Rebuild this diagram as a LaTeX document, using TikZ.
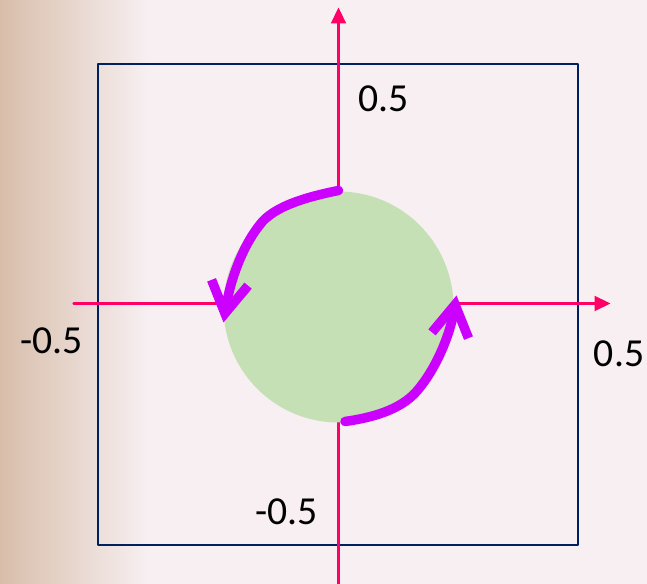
\documentclass[tikz,border=0pt]{standalone}
\usepackage{fontspec}
\setmainfont{Carlito}
\usetikzlibrary{arrows.meta}
\definecolor{axispink}{HTML}{FF0066}
\definecolor{arcpurple}{HTML}{CC00FF}
\definecolor{blobgreen}{HTML}{C5E0B4}
\definecolor{framenavy}{HTML}{002060}
\definecolor{paper}{HTML}{F7EFF2}
\definecolor{paperbrown}{HTML}{D8BEAA}
\tikzset{
  every picture/.style={line join=round, line cap=round, >=Stealth},
  axisline/.style={axispink, line width=0.6pt, -{Triangle[length=1.6mm,width=1.5mm]}},
  flowarc/.style={arcpurple, line width=2.7pt, -{Straight Barb[length=3.1mm,width=3.7mm]}},
  lbl/.style={font=\fontsize{11.3}{13}\selectfont, inner sep=0pt},
}

\begin{document}
\begin{tikzpicture}
\useasboundingbox (-3.385,-2.805) rectangle (3.085,3.035);
\fill[paper] (-3.385,-2.805) rectangle (3.085,3.035);
\shade[left color=paperbrown, right color=paper] (-3.385,-2.805) rectangle (-1.9,3.035);
%frame
\draw[framenavy, line width=0.65pt] (-2.405,-2.415) rectangle (2.395,2.395);
%axes
\coordinate (xl) at (-2.65,0);
\coordinate (xr) at (2.72,0);
\coordinate (yb) at (0,-2.81);
\coordinate (yt) at (0,2.96);
\draw[axisline] (xl) -- (xr);
\draw[axisline] (yb) -- (yt);
%green region
\fill[blobgreen] (0,-0.035) ellipse (1.15 and 1.155);
%circulation
\coordinate (a1) at (0,1.13);
\coordinate (a2) at (-1.15,-0.19);
\coordinate (b1) at (0.065,-1.18);
\coordinate (b2) at (1.18,0.08);
\draw[flowarc] (a1) .. controls (-0.35,1.06) and (-0.62,0.97) .. (-0.76,0.82)
  .. controls (-0.95,0.6) and (-1.08,0.25) .. (a2);
\draw[flowarc] (b1) .. controls (0.35,-1.14) and (0.62,-1.06) .. (0.78,-0.88)
  .. controls (0.98,-0.65) and (1.12,-0.3) .. (b2);
%labels
\node[lbl] (ytop) at (0.452,2.048) {0.5};
\node[lbl] (xneg) at (-2.869,-0.373) {-0.5};
\node[lbl] (xpos) at (2.805,-0.503) {0.5};
\node[lbl] (yneg) at (-0.517,-2.086) {-0.5};
\end{tikzpicture}
\end{document}
